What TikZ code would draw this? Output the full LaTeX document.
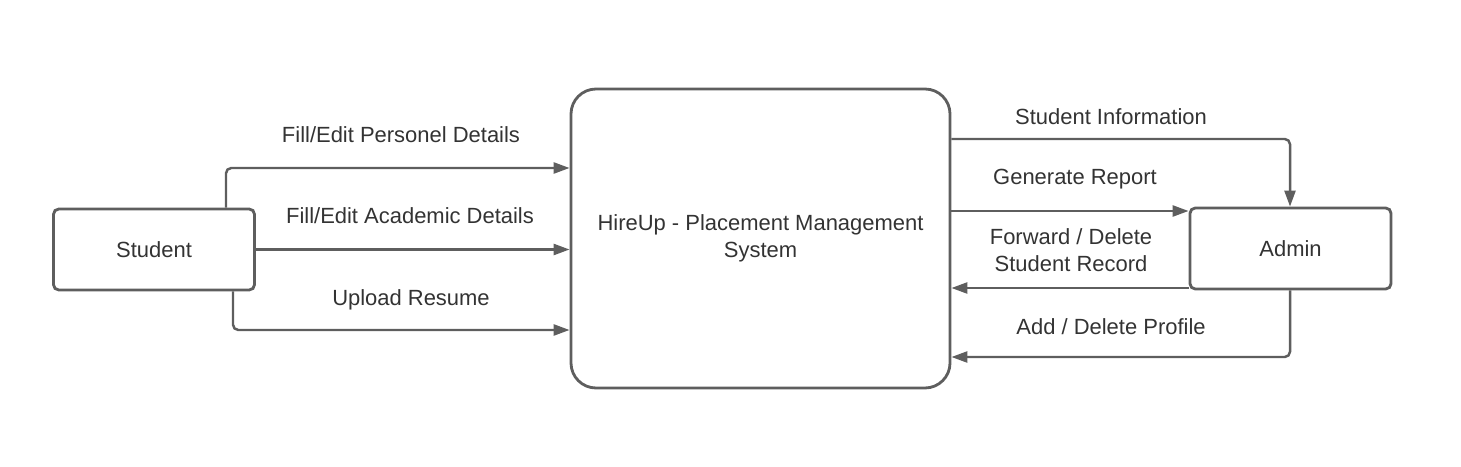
\documentclass[tikz,border=0pt]{standalone}
\usepackage{fontspec}
\setmainfont{Liberation Sans}
\usetikzlibrary{arrows.meta, calc}

\definecolor{linegray}{HTML}{5E5E5E}
\definecolor{textgray}{HTML}{333333}

\begin{document}
\begin{tikzpicture}[
    font=\fontsize{12.5}{15}\selectfont, text=textgray,
    entity/.style={draw=linegray, line width=1.6pt, rounded corners=3pt, minimum width=4.02cm, minimum height=1.62cm, align=center},
    system/.style={draw=linegray, line width=1.6pt, rounded corners=0.5cm, minimum width=7.58cm, minimum height=5.98cm, align=center},
    flow/.style={draw=linegray, line width=1.4pt, rounded corners=3pt, -{Triangle[length=0.32cm, width=0.22cm]}},
    flowlabel/.style={align=center}
  ]
    \useasboundingbox (0,0) rectangle (29.22,9.32);

    % entities
    \node[entity] (student) at (3.08,4.33) {Student};
    \node[system] (hireup) at (15.21,4.55) {HireUp - Placement Management\\System};
    \node[entity] (admin) at (25.81,4.35) {Admin};

    % bend points
    \coordinate (s1) at (4.52,5.96);
    \coordinate (s3) at (4.66,2.72);
    \coordinate (a1) at (25.80,6.54);
    \coordinate (a4) at (25.80,2.18);

    % student to system
    \draw[flow] (student.north -| s1) -- (s1) -- (s1 -| hireup.west);
    \draw[flow] (student.east) -- (student.east -| hireup.west);
    \draw[flow] (student.south -| s3) -- (s3) -- (s3 -| hireup.west);

    % system and admin
    \draw[flow] (a1 -| hireup.east) -- (a1) -- (admin.north -| a1);
    \draw[flow] (hireup.east |- 0,5.10) -- (admin.west |- 0,5.10);
    \draw[flow] (admin.west |- 0,3.56) -- (hireup.east |- 0,3.56);
    \draw[flow] (admin.south -| a4) -- (a4) -- (a4 -| hireup.east);

    % flow labels
    \node[flowlabel] (lpers) at (8.02,6.62) {Fill/Edit Personel Details};
    \node[flowlabel] (lacad) at (8.20,5.00) {Fill/Edit Academic Details};
    \node[flowlabel] (lres) at (8.22,3.33) {Upload Resume};
    \node[flowlabel] (linfo) at (22.22,6.98) {Student Information};
    \node[flowlabel] (lrep) at (21.50,5.74) {Generate Report};
    \node[flowlabel] (lfwd) at (21.42,4.32) {Forward / Delete\\Student Record};
    \node[flowlabel] (lprof) at (22.22,2.78) {Add / Delete Profile};
\end{tikzpicture}
\end{document}
